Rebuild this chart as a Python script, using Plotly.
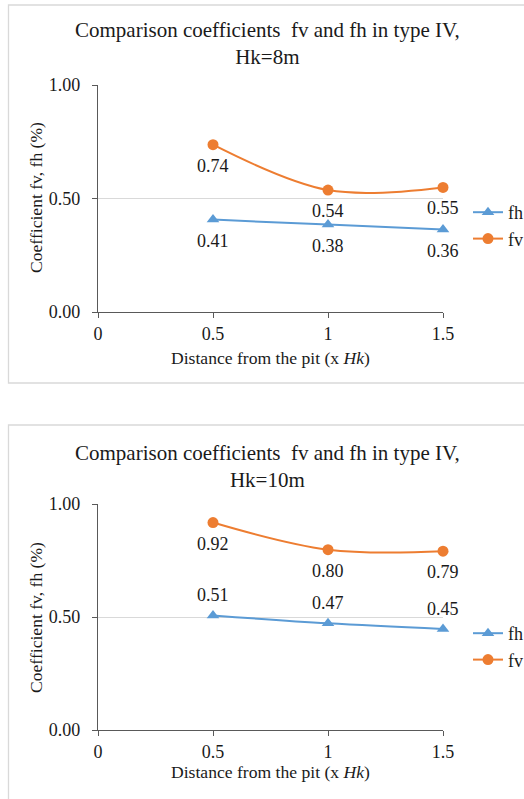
import plotly.graph_objects as go

# ---- data ----
distance = [0.5, 1, 1.5]
x_ticks = [0, 0.5, 1, 1.5]
x_tick_labels = ["0", "0.5", "1", "1.5"]
y_ticks = [0, 0.5, 1.0]
y_tick_labels = ["0.00", "0.50", "1.00"]

fh_8m = [0.407, 0.385, 0.363]
fv_8m = [0.737, 0.537, 0.549]
fh_8m_labels = ["0.41", "0.38", "0.36"]
fv_8m_labels = ["0.74", "0.54", "0.55"]

fh_10m = [0.507, 0.472, 0.447]
fv_10m = [0.918, 0.798, 0.791]
fh_10m_labels = ["0.51", "0.47", "0.45"]
fv_10m_labels = ["0.92", "0.80", "0.79"]

title_8m = "Comparison coefficients  fv and fh in type IV,<br>Hk=8m"
title_10m = "Comparison coefficients  fv and fh in type IV,<br>Hk=10m"
x_title = "Distance from the pit (x <i>Hk</i>)"
y_title = "Coefficient fv, fh (%)"

# ---- style ----
W, H = 524, 799
FONT = "Liberation Serif"
BLUE = "#5B9BD5"
ORANGE = "#ED7D31"
AXIS = "#595959"
GRID = "#D9D9D9"
TXT = "#1a1a1a"


def py(px):
    return 1 - px / H


def px_x(px):
    return px / W


fig = go.Figure()

panels = [
    dict(xa="x", ya="y", legend="legend", fh=fh_8m, fv=fv_8m,
         fhl=fh_8m_labels, fvl=fv_8m_labels, fh_shift=-21),
    dict(xa="x2", ya="y2", legend="legend2", fh=fh_10m, fv=fv_10m,
         fhl=fh_10m_labels, fvl=fv_10m_labels, fh_shift=20),
]

for p in panels:
    fig.add_trace(go.Scatter(
        x=distance, y=p["fh"], name="fh", mode="lines+markers",
        line=dict(color=BLUE, width=2, shape="spline", smoothing=1),
        marker=dict(symbol="triangle-up", size=11, color=BLUE),
        xaxis=p["xa"], yaxis=p["ya"], legend=p["legend"], cliponaxis=False,
    ))
    fig.add_trace(go.Scatter(
        x=distance, y=p["fv"], name="fv", mode="lines+markers",
        line=dict(color=ORANGE, width=2, shape="spline", smoothing=1),
        marker=dict(symbol="circle", size=11, color=ORANGE),
        xaxis=p["xa"], yaxis=p["ya"], legend=p["legend"], cliponaxis=False,
    ))
    # data labels, placed at the data points and shifted
    for xs, ys, labels, shift in [(distance, p["fh"], p["fhl"], p["fh_shift"]),
                                  (distance, p["fv"], p["fvl"], -21)]:
        for xv, yv, lab in zip(xs, ys, labels):
            fig.add_annotation(x=xv, y=yv, xref=p["xa"], yref=p["ya"],
                               text=lab, showarrow=False, yshift=shift,
                               xanchor="center", yanchor="middle",
                               font=dict(family=FONT, size=18, color=TXT))

xdom = [px_x(98), px_x(443)]
axis_common_x = dict(
    range=[0, 1.5], tickvals=x_ticks, ticktext=x_tick_labels,
    showline=True, linecolor=AXIS, linewidth=1.3, ticks="outside",
    ticklen=5, tickcolor=AXIS, showgrid=False, zeroline=False,
    tickfont=dict(family=FONT, size=18, color=TXT), domain=xdom,
    automargin=False,
)
axis_common_y = dict(
    range=[0, 1.0], tickvals=y_ticks, ticktext=y_tick_labels,
    showline=True, linecolor=AXIS, linewidth=1.3, ticks="outside",
    ticklen=5, tickcolor=AXIS, showgrid=True, gridcolor=GRID, gridwidth=1,
    zeroline=False, tickfont=dict(family=FONT, size=18, color=TXT),
    ticklabelstandoff=8, automargin=False,
)

legend_common = dict(
    font=dict(family=FONT, size=18, color=TXT), bgcolor="rgba(0,0,0,0)",
    xanchor="left", yanchor="middle", tracegroupgap=0, itemwidth=30,
)

fig.update_layout(
    width=W, height=H,
    margin=dict(l=0, r=0, t=0, b=0, autoexpand=False),
    paper_bgcolor="white", plot_bgcolor="white",
    xaxis=dict(**axis_common_x, anchor="y"),
    yaxis=dict(**axis_common_y, domain=[py(312), py(85)], anchor="x"),
    xaxis2=dict(**axis_common_x, anchor="y2"),
    yaxis2=dict(**axis_common_y, domain=[py(730), py(504)], anchor="x2"),
    legend=dict(**legend_common, x=px_x(468), y=py(225.5)),
    legend2=dict(**legend_common, x=px_x(468), y=py(646.5)),
    showlegend=True,
)

# chart frames
fig.add_shape(type="rect", xref="paper", yref="paper",
              x0=px_x(8.5), x1=1.02, y0=py(383), y1=py(5),
              line=dict(color=GRID, width=1.3), layer="below")
fig.add_shape(type="rect", xref="paper", yref="paper",
              x0=px_x(8.5), x1=1.02, y0=-0.02, y1=py(425),
              line=dict(color=GRID, width=1.3), layer="below")

# titles and axis titles
for title, ty, xt_y, yt_y in [(title_8m, 43, 358, 198), (title_10m, 466, 772, 618)]:
    fig.add_annotation(text=title, xref="paper", yref="paper",
                       x=px_x(267), y=py(ty), xanchor="center", yanchor="middle",
                       showarrow=False, font=dict(family=FONT, size=21, color=TXT))
    fig.add_annotation(text=x_title, xref="paper", yref="paper",
                       x=px_x(270), y=py(xt_y), xanchor="center", yanchor="middle",
                       showarrow=False, font=dict(family=FONT, size=17.6, color=TXT))
    fig.add_annotation(text=y_title, xref="paper", yref="paper",
                       x=px_x(36), y=py(yt_y), xanchor="center", yanchor="middle",
                       textangle=-90, showarrow=False,
                       font=dict(family=FONT, size=17.6, color=TXT))

fig.write_html("out.html")
